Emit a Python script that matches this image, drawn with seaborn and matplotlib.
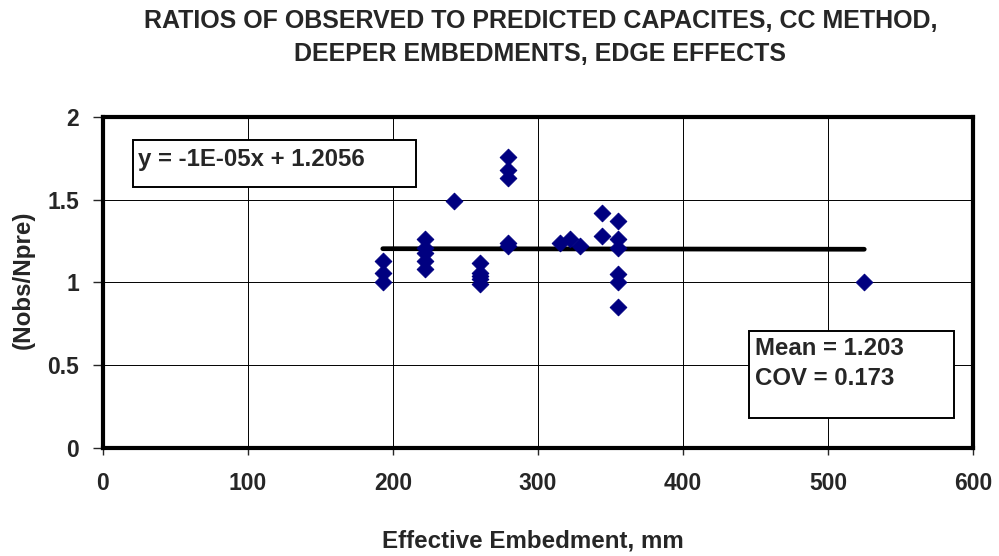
import numpy as np
import pandas as pd
import seaborn as sns
import matplotlib.pyplot as plt
from matplotlib.patches import Rectangle

embedment = [193, 193, 193,
             222, 222, 222, 222, 222,
             242,
             260, 260, 260, 260, 260,
             279, 279, 279, 279, 279,
             315, 322, 329,
             344, 344,
             355, 355, 355, 355, 355, 355,
             525]
ratio = [1.13, 1.06, 1.00,
         1.26, 1.21, 1.18, 1.13, 1.08,
         1.49,
         1.12, 1.06, 1.04, 1.02, 0.99,
         1.76, 1.68, 1.63, 1.24, 1.22,
         1.24, 1.26, 1.22,
         1.42, 1.28,
         1.37, 1.26, 1.21, 1.05, 1.00, 0.85,
         1.00]
slope, intercept = -1e-05, 1.2056
xticks = [0, 100, 200, 300, 400, 500, 600]
yticks = [0, 0.5, 1, 1.5, 2]
ytick_labels = ['0', '0.5', '1', '1.5', '2']

df = pd.DataFrame({'x': embedment, 'y': ratio})

sns.set_style('white')
plt.rcParams['font.family'] = ['Liberation Sans', 'DejaVu Sans']
plt.rcParams['font.weight'] = 'bold'

fig = plt.figure(figsize=(9.99, 5.56), dpi=100)
ax = fig.add_axes([0.103, 0.194, 0.871, 0.596])

ax.grid(True, color='black', linewidth=0.7)
ax.set_axisbelow(True)

sns.scatterplot(data=df, x='x', y='y', marker='D', color='#000080',
                edgecolor='#000080', s=72, ax=ax, zorder=3)

# linear trend line
xl = np.array([min(embedment), max(embedment)])
ax.plot(xl, slope * xl + intercept, color='black', linewidth=3.4, zorder=2)

ax.set_xlim(0, 600)
ax.set_ylim(0, 2)
ax.set_xticks(xticks)
ax.set_yticks(yticks)
ax.set_yticklabels(ytick_labels)
ax.tick_params(axis='x', labelsize=16.5, direction='out', length=5,
               width=1, bottom=True, pad=12)
ax.tick_params(axis='y', labelsize=16.5, direction='out', length=7,
               width=1, left=True, pad=10)
for lab in ax.get_xticklabels() + ax.get_yticklabels():
    lab.set_fontweight('bold')
for sp in ax.spines.values():
    sp.set_visible(True)
    sp.set_color('black')
    sp.set_linewidth(3)

ax.set_xlabel('Effective Embedment, mm', fontsize=17.4, fontweight='bold', va='center')
ax.xaxis.set_label_coords(0.494, -0.281)
ax.set_ylabel('(Nobs/Npre)', fontsize=17.4, fontweight='bold', va='center')
ax.yaxis.set_label_coords(-0.091, 0.508)

fig.text(0.541, 0.9325, 'RATIOS OF OBSERVED TO PREDICTED CAPACITES, CC METHOD,\nDEEPER EMBEDMENTS, EDGE EFFECTS',
         ha='center', va='center', fontsize=18, fontweight='bold', linespacing=1.5)

# text boxes
ax.add_patch(Rectangle((0.0345, 0.789), 0.3255, 0.141, transform=ax.transAxes,
                       facecolor='white', edgecolor='black', linewidth=1.4, zorder=4))
ax.text(0.0402, 0.872, 'y = -1E-05x + 1.2056', transform=ax.transAxes,
        fontsize=17.3, fontweight='bold', va='center', ha='left', zorder=5)

ax.add_patch(Rectangle((0.7425, 0.0906), 0.2355, 0.2624, transform=ax.transAxes,
                       facecolor='white', edgecolor='black', linewidth=1.4, zorder=4))
ax.text(0.749, 0.302, 'Mean = 1.203', transform=ax.transAxes,
        fontsize=17.3, fontweight='bold', va='center', ha='left', zorder=5)
ax.text(0.749, 0.210, 'COV = 0.173', transform=ax.transAxes,
        fontsize=17.3, fontweight='bold', va='center', ha='left', zorder=5)

fig.savefig('out.png', dpi=100)
